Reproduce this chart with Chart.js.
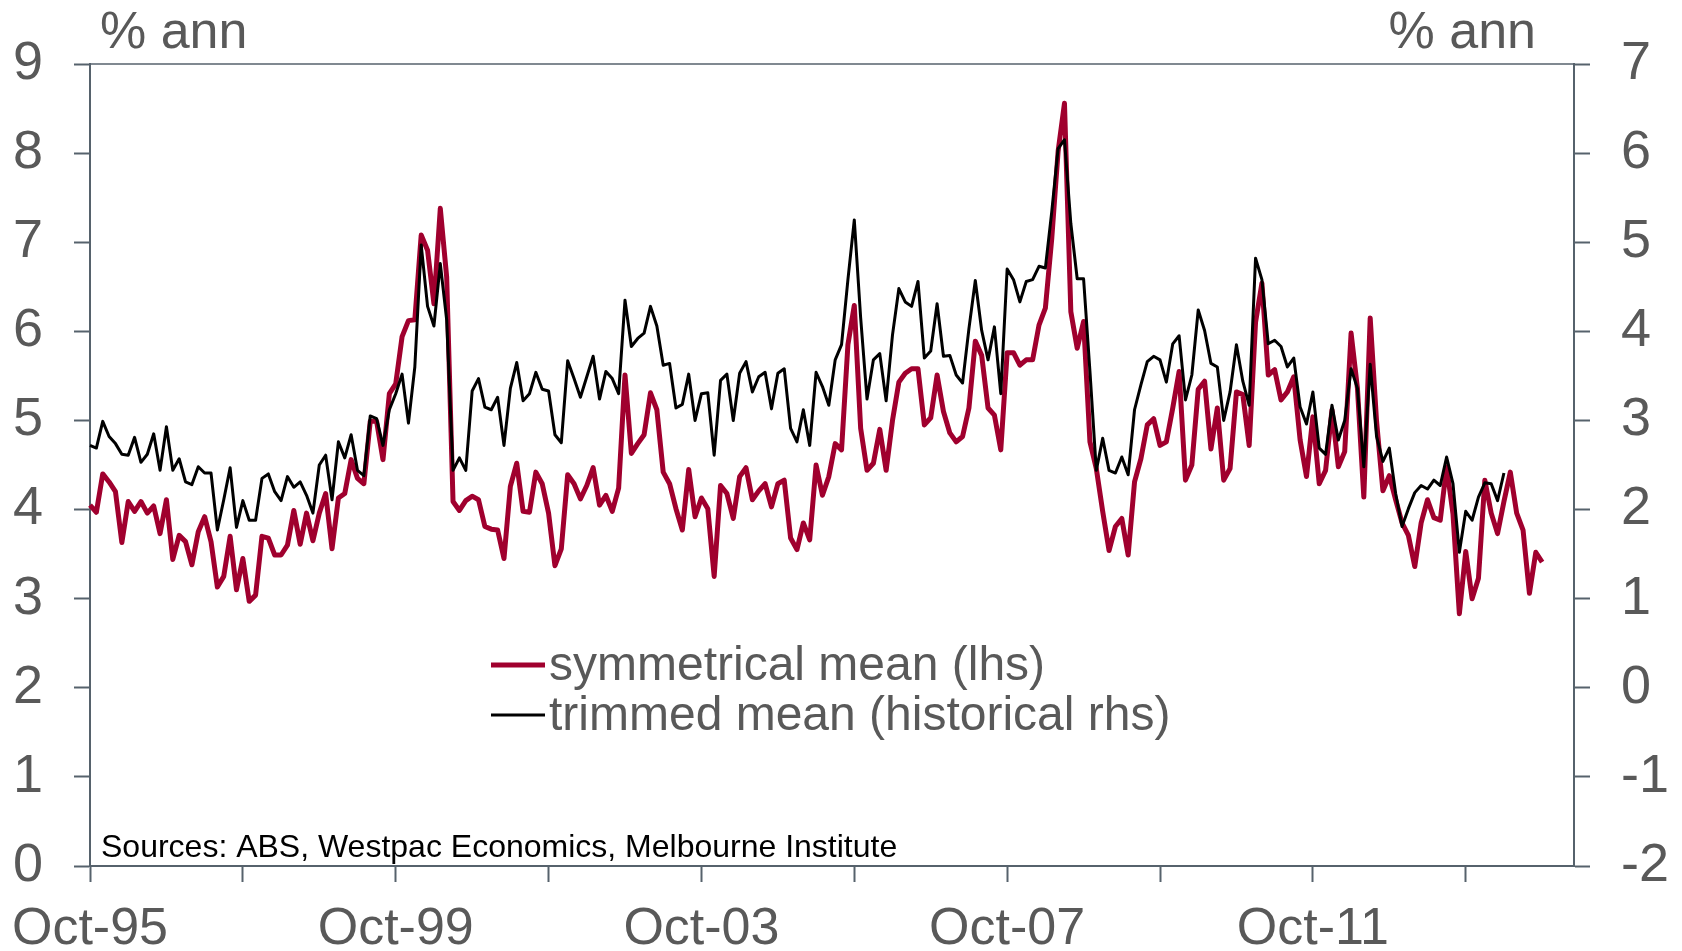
<!DOCTYPE html>
<html>
<head>
<meta charset="utf-8">
<script src="https://cdn.jsdelivr.net/npm/chart.js@4.4.0/dist/chart.umd.min.js"></script>
<style>
  html, body { margin: 0; padding: 0; background: #fff; }
  #wrap { width: 1682px; height: 951px; position: relative; }
</style>
</head>
<body>
<div id="wrap"><canvas id="myChart"></canvas></div>
<script>
// monthly, Oct-95 onwards (axis runs to Mar-15)
const monthNames = ['Jan', 'Feb', 'Mar', 'Apr', 'May', 'Jun', 'Jul', 'Aug', 'Sep', 'Oct', 'Nov', 'Dec'];
const nMonths = 234;
const tickLabels = ['Oct-95', 'Oct-99', 'Oct-03', 'Oct-07', 'Oct-11'];
const tickMarks = ['Oct-97', 'Oct-01', 'Oct-05', 'Oct-09', 'Oct-13'];

// symmetrical mean, % ann (lhs)
const symMean = [
  4.05, 3.97, 4.40, 4.31, 4.20, 3.63, 4.09, 3.98, 4.09, 3.96, 4.04, 3.73,
  4.11, 3.44, 3.71, 3.64, 3.38, 3.75, 3.92, 3.64, 3.13, 3.25, 3.70, 3.10,
  3.45, 2.97, 3.04, 3.70, 3.68, 3.49, 3.49, 3.60, 3.99, 3.61, 3.96, 3.65,
  3.96, 4.18, 3.56, 4.13, 4.18, 4.56, 4.35, 4.29, 4.99, 4.99, 4.56, 5.30,
  5.41, 5.94, 6.12, 6.13, 7.08, 6.91, 6.31, 7.38, 6.61, 4.09, 3.99, 4.10,
  4.15, 4.11, 3.81, 3.78, 3.77, 3.45, 4.26, 4.52, 3.98, 3.97, 4.42, 4.29,
  3.96, 3.37, 3.56, 4.39, 4.29, 4.12, 4.27, 4.47, 4.05, 4.16, 3.98, 4.24,
  5.51, 4.63, 4.74, 4.84, 5.31, 5.12, 4.42, 4.29, 4.01, 3.77, 4.45, 3.92,
  4.13, 4.01, 3.25, 4.27, 4.18, 3.90, 4.37, 4.47, 4.11, 4.21, 4.29, 4.03,
  4.29, 4.33, 3.68, 3.55, 3.85, 3.66, 4.50, 4.16, 4.37, 4.74, 4.67, 5.85,
  6.29, 4.91, 4.44, 4.52, 4.90, 4.44, 5.00, 5.43, 5.53, 5.58, 5.58, 4.95,
  5.03, 5.51, 5.10, 4.86, 4.76, 4.82, 5.14, 5.89, 5.73, 5.14, 5.06, 4.67,
  5.76, 5.76, 5.62, 5.68, 5.68, 6.07, 6.26, 7.04, 8.02, 8.56, 6.22, 5.81,
  6.11, 4.76, 4.46, 3.98, 3.54, 3.81, 3.90, 3.49, 4.31, 4.57, 4.95, 5.02,
  4.72, 4.76, 5.14, 5.55, 4.33, 4.50, 5.35, 5.44, 4.68, 5.14, 4.33, 4.46,
  5.32, 5.29, 4.72, 6.10, 6.54, 5.51, 5.57, 5.23, 5.32, 5.49, 4.78, 4.37,
  5.04, 4.29, 4.44, 5.12, 4.48, 4.65, 5.98, 5.36, 4.14, 6.15, 4.99, 4.21,
  4.38, 4.11, 3.85, 3.71, 3.36, 3.85, 4.11, 3.91, 3.88, 4.48, 3.95, 2.83,
  3.53, 3.00, 3.23, 4.33, 3.96, 3.73, 4.09, 4.42, 3.96, 3.77, 3.06, 3.52,
  3.41
];

// trimmed mean (historical), % ann (rhs)
const trimMean = [
  2.72, 2.69, 2.99, 2.82, 2.74, 2.62, 2.61, 2.81, 2.53, 2.62, 2.85, 2.44,
  2.93, 2.44, 2.57, 2.31, 2.28, 2.48, 2.41, 2.41, 1.77, 2.11, 2.47, 1.80,
  2.10, 1.88, 1.88, 2.35, 2.40, 2.20, 2.10, 2.37, 2.25, 2.31, 2.16, 1.96,
  2.50, 2.61, 2.11, 2.76, 2.58, 2.84, 2.44, 2.38, 3.05, 3.02, 2.72, 3.12,
  3.30, 3.52, 2.97, 3.60, 4.97, 4.28, 4.06, 4.76, 4.13, 2.44, 2.58, 2.44,
  3.33, 3.47, 3.15, 3.12, 3.26, 2.72, 3.36, 3.65, 3.22, 3.30, 3.54, 3.35,
  3.33, 2.84, 2.75, 3.67, 3.47, 3.26, 3.49, 3.72, 3.24, 3.55, 3.47, 3.30,
  4.35, 3.83, 3.92, 3.98, 4.28, 4.06, 3.62, 3.64, 3.14, 3.18, 3.52, 3.00,
  3.30, 3.31, 2.61, 3.45, 3.52, 3.00, 3.53, 3.66, 3.32, 3.49, 3.54, 3.13,
  3.53, 3.58, 2.91, 2.76, 3.12, 2.72, 3.54, 3.38, 3.17, 3.68, 3.85, 4.58,
  5.25, 4.15, 3.24, 3.68, 3.75, 3.22, 3.96, 4.48, 4.33, 4.28, 4.56, 3.70,
  3.78, 4.31, 3.72, 3.73, 3.51, 3.42, 4.03, 4.57, 4.01, 3.68, 4.05, 3.30,
  4.70, 4.58, 4.33, 4.56, 4.58, 4.73, 4.71, 5.34, 6.05, 6.15, 5.21, 4.59,
  4.59, 3.55, 2.44, 2.80, 2.44, 2.41, 2.59, 2.39, 3.12, 3.40, 3.66, 3.72,
  3.68, 3.43, 3.86, 3.95, 3.23, 3.51, 4.24, 4.01, 3.64, 3.60, 3.00, 3.32,
  3.85, 3.44, 3.17, 4.82, 4.58, 3.86, 3.90, 3.83, 3.60, 3.70, 3.15, 2.96,
  3.32, 2.69, 2.62, 3.17, 2.78, 3.00, 3.58, 3.36, 2.48, 3.63, 2.82, 2.54,
  2.69, 2.18, 1.81, 2.01, 2.19, 2.27, 2.23, 2.33, 2.27, 2.59, 2.29, 1.52,
  1.98, 1.88, 2.14, 2.30, 2.29, 2.10, 2.41
];

const labels = [];
for (let i = 0; i < nMonths; i++) {
  const k = 9 + i;
  const yr = (95 + Math.floor(k / 12)) % 100;
  labels.push(monthNames[k % 12] + '-' + String(yr).padStart(2, '0'));
}

const red = '#A0002E';
const axisColor = '#56626C';
const textColor = '#595959';
const fontFamily = '"Liberation Sans", Arial, sans-serif';

function isMark(i) {
  const lab = labels[i];
  return tickLabels.includes(lab) || tickMarks.includes(lab);
}

// legend, unit titles, sources and top border
const overlay = {
  id: 'overlay',
  afterDraw(chart) {
    const ctx = chart.ctx;
    const a = chart.chartArea;
    ctx.save();
    ctx.strokeStyle = axisColor;
    ctx.lineWidth = 1.5;
    ctx.beginPath();
    ctx.moveTo(a.left, a.top);
    ctx.lineTo(a.right, a.top);
    ctx.stroke();

    ctx.fillStyle = textColor;
    ctx.font = '52px ' + fontFamily;
    ctx.textBaseline = 'alphabetic';
    ctx.textAlign = 'left';
    ctx.fillText('% ann', 100, 48);
    ctx.textAlign = 'right';
    ctx.fillText('% ann', 1536, 48);

    const items = [
      { text: 'symmetrical mean (lhs)', color: red, width: 5, y: 665 },
      { text: 'trimmed mean (historical rhs)', color: '#000', width: 3, y: 715 }
    ];
    ctx.font = '48px ' + fontFamily;
    ctx.textAlign = 'left';
    ctx.textBaseline = 'middle';
    items.forEach(it => {
      ctx.strokeStyle = it.color;
      ctx.lineWidth = it.width;
      ctx.beginPath();
      ctx.moveTo(491, it.y);
      ctx.lineTo(545, it.y);
      ctx.stroke();
      ctx.fillStyle = textColor;
      ctx.fillText(it.text, 549, it.y + 2);
    });

    ctx.fillStyle = '#000';
    ctx.font = '32px ' + fontFamily;
    ctx.textBaseline = 'alphabetic';
    ctx.fillText('Sources: ABS, Westpac Economics, Melbourne Institute', 101, 857);
    ctx.restore();
  }
};

const ctx = document.getElementById('myChart').getContext('2d');

const myChart = new Chart(ctx, {
  type: 'line',
  data: {
    labels: labels,
    datasets: [{
      label: 'trimmed mean (historical rhs)',
      data: trimMean,
      yAxisID: 'y1',
      borderColor: '#000',
      borderWidth: 3,
      pointRadius: 0,
      tension: 0,
      borderJoinStyle: 'round',
      order: 1
    }, {
      label: 'symmetrical mean (lhs)',
      data: symMean,
      yAxisID: 'y',
      borderColor: red,
      borderWidth: 5,
      pointRadius: 0,
      tension: 0,
      borderJoinStyle: 'round',
      order: 2
    }]
  },
  options: {
    responsive: true,
    maintainAspectRatio: false,
    animation: false,
    layout: { padding: { top: 64, left: 0, right: 0, bottom: 0 } },
    plugins: {
      legend: { display: false },
      tooltip: { enabled: false }
    },
    scales: {
      x: {
        offset: false,
        afterFit: s => { s.height = 85; },
        border: { color: axisColor, width: 2 },
        grid: {
          drawOnChartArea: false,
          tickLength: 16,
          tickWidth: 2,
          tickColor: c => isMark(c.index) ? axisColor : 'rgba(0,0,0,0)'
        },
        ticks: {
          autoSkip: false,
          maxRotation: 0,
          minRotation: 0,
          padding: 6,
          color: textColor,
          font: { size: 52, family: fontFamily, lineHeight: 1.6 },
          callback: (v, i) => tickLabels.includes(labels[i]) ? labels[i] : ''
        }
      },
      y: {
        position: 'left',
        min: 0,
        max: 9,
        afterFit: s => { s.width = 90; },
        border: { color: axisColor, width: 2 },
        grid: { drawOnChartArea: false, tickLength: 16, tickWidth: 2, tickColor: axisColor },
        ticks: {
          stepSize: 1,
          padding: 31,
          color: textColor,
          font: { size: 54, family: fontFamily }
        }
      },
      y1: {
        position: 'right',
        min: -2,
        max: 7,
        afterFit: s => { s.width = 108; },
        border: { color: axisColor, width: 2 },
        grid: { drawOnChartArea: false, tickLength: 16, tickWidth: 2, tickColor: axisColor },
        ticks: {
          stepSize: 1,
          padding: 31,
          color: textColor,
          font: { size: 54, family: fontFamily }
        }
      }
    }
  },
  plugins: [overlay]
});
</script>
</body>
</html>
